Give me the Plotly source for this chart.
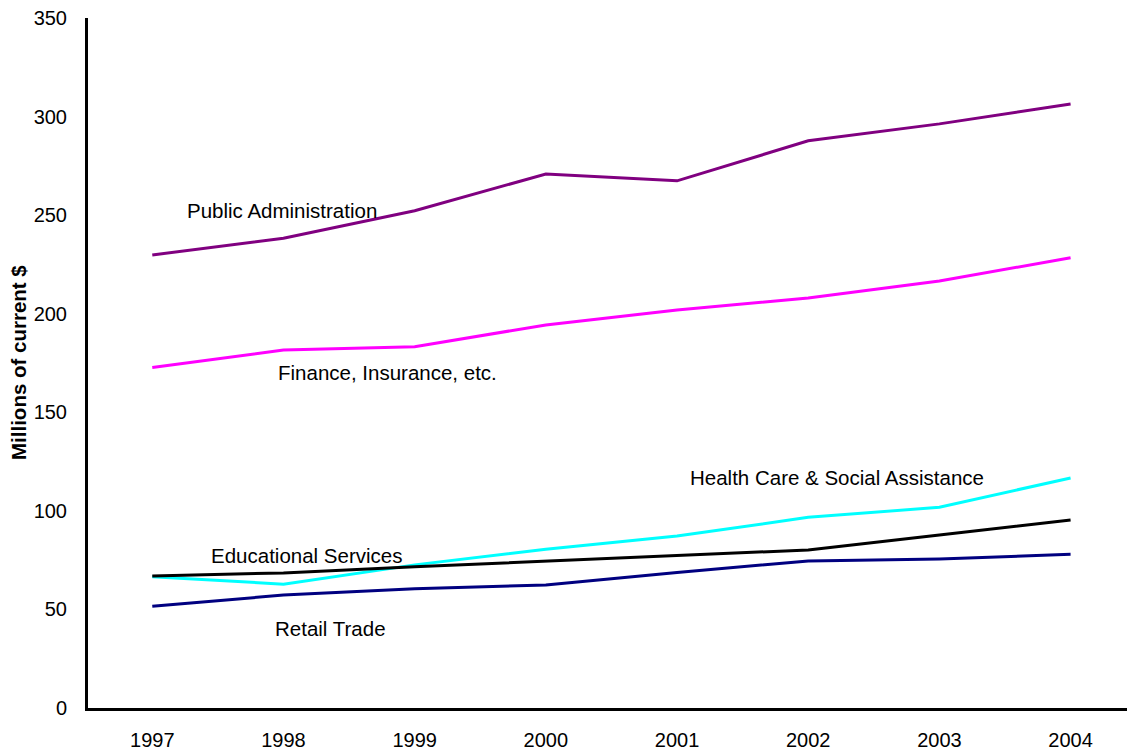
import plotly.graph_objects as go

years = [1997, 1998, 1999, 2000, 2001, 2002, 2003, 2004]
public_admin = [229.8, 238.3, 252.2, 270.9, 267.4, 287.7, 296.3, 306.4]
finance = [172.7, 181.6, 183.3, 194.3, 201.9, 208.0, 216.6, 228.4]
health = [66.6, 62.8, 72.6, 80.5, 87.2, 96.7, 101.8, 116.7]
education = [67.0, 68.5, 71.6, 74.4, 77.4, 80.2, 87.8, 95.4]
retail = [51.6, 57.3, 60.5, 62.4, 68.7, 74.6, 75.6, 78.0]

series = [
    ("Public Administration", public_admin, "#800080"),
    ("Finance, Insurance, etc.", finance, "#FF00FF"),
    ("Health Care & Social Assistance", health, "#00FFFF"),
    ("Educational Services", education, "#000000"),
    ("Retail Trade", retail, "#000080"),
]

FONT = "Liberation Sans, Arial, sans-serif"

fig = go.Figure()
for name, vals, color in series:
    fig.add_trace(go.Scatter(x=years, y=vals, mode="lines", name=name,
                             line=dict(color=color, width=3), showlegend=False))

labels = [
    ("Public Administration", 1997.25, 252.2),
    ("Finance, Insurance, etc.", 1997.94, 170.0),
    ("Health Care & Social Assistance", 2001.08, 116.7),
    ("Educational Services", 1997.43, 77.6),
    ("Retail Trade", 1997.92, 40.1),
]
for text, x, y in labels:
    fig.add_annotation(x=x, y=y, text=text, showarrow=False, xanchor="left",
                       yanchor="middle", font=dict(family=FONT, size=20.5, color="#000"))

fig.add_annotation(x=0, y=0.5, xref="paper", yref="paper", text="<b>Millions of current $</b>",
                   textangle=-90, showarrow=False, xanchor="center", yanchor="middle",
                   xshift=-70, font=dict(family=FONT, size=20.5, color="#000"))

fig.update_layout(
    width=1127, height=750,
    margin=dict(l=88, r=0, t=18, b=42),
    paper_bgcolor="white", plot_bgcolor="white",
    font=dict(family=FONT, size=20, color="#000"),
    xaxis=dict(range=[1996.51, 2004.43], tickmode="array", tickvals=years,
               ticktext=[str(y) for y in years], showgrid=False, zeroline=False,
               showline=True, linecolor="#000", linewidth=3, ticks="",
               ticklabelstandoff=12),
    yaxis=dict(range=[0, 350], tickvals=[0, 50, 100, 150, 200, 250, 300, 350],
               showgrid=False, zeroline=False, showline=True, linecolor="#000",
               linewidth=3, ticks="", ticklabelstandoff=14),
)

fig.write_html("out.html", config={"displayModeBar": False},
               post_script="document.body.style.margin='0';document.body.style.overflow='hidden';")
